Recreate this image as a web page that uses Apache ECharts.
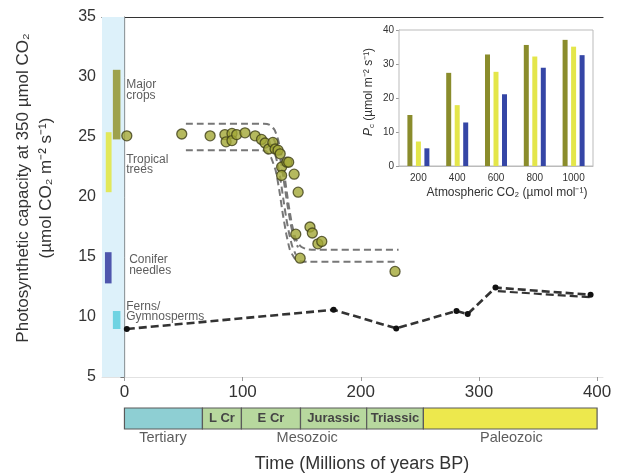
<!DOCTYPE html>
<html><head><meta charset="utf-8">
<script src="https://cdn.jsdelivr.net/npm/echarts@6/dist/echarts.min.js"></script>
<style>html,body{margin:0;padding:0;background:#fff}#c{width:619px;height:475px}</style>
</head><body><div id="c"></div>
<script>
const FONT = '"Liberation Sans", Arial, sans-serif';

// ---- main chart data ----
const xTicks = [0, 100, 200, 300, 400];
// green circles: age (Myr BP) and Pc
const fossilAge = [2, 48.5, 72.5, 85, 86, 91, 91, 95, 102, 110.6, 116, 119, 122, 125.6, 127.5, 130, 131.8, 133, 133, 137.5, 139, 143.6, 147, 145, 157, 159, 163.7, 167, 148.7, 229];
const fossilPc  = [25.1, 25.25, 25.1, 25.2, 24.6, 25.3, 24.7, 25.2, 25.35, 25.1, 24.8, 24.5, 24.0, 24.55, 24.0, 23.9, 23.6, 22.5, 21.8, 22.9, 22.9, 21.9, 20.4, 16.9, 17.5, 17.0, 16.1, 16.3, 14.9, 13.8];

// dashed envelopes
const upperEnvX = [52, 118, 123, 127, 130, 133, 136, 139, 142, 145, 149, 154, 160, 232];
const upperEnvY = [26.1, 26.1, 26.0, 25.6, 24.8, 23.4, 21.4, 19.3, 17.6, 16.5, 15.9, 15.65, 15.6, 15.6];
const mid1X = [126, 130, 133, 136, 138.5, 141, 144, 147];
const mid1Y = [24.9, 24.0, 22.6, 20.6, 19.0, 17.6, 16.4, 15.8];
const mid2X = [124, 128, 131.5, 134.5, 137, 139.5, 142, 145];
const mid2Y = [24.4, 23.4, 21.8, 19.8, 18.2, 16.9, 15.9, 15.2];
const lowerEnvX = [52, 116, 120, 124, 128, 131, 134, 137, 140, 144, 149, 155, 232];
const lowerEnvY = [23.9, 23.9, 23.8, 23.3, 22.2, 20.6, 18.6, 16.9, 15.6, 14.9, 14.65, 14.6, 14.6];

// ferns / gymnosperms line
const fernAge = [2, 177, 230, 281, 290.5, 314, 394.5];
const fernPc  = [9.0, 10.6, 9.05, 10.5, 10.25, 12.45, 11.85];
const fernAge2 = [316, 394.5];
const fernPc2  = [12.15, 11.65];

// modern plant group ranges [x0, x1, yLow, yHigh]
const groupNames = ['Major\ncrops', 'Tropical\ntrees', 'Conifer\nneedles', 'Ferns/\nGymnosperms'];
const groupRanges = [[-9.8, -3.4, 24.8, 30.6], [-15.8, -10.9, 20.4, 25.4], [-16.5, -10.9, 12.8, 15.4], [-9.8, -3.4, 9.0, 10.5]];
const groupColors = ['#9ea24c', '#e2e85a', '#4f56ad', '#6fd3e2'];
const groupLabelX = [1.5, 1.5, 4, 1.5];
const groupLabelY = [28.9, 22.7, 14.3, 10.45];

// geological timeline
const periodNames = ['', 'L Cr', 'E Cr', 'Jurassic', 'Triassic', ''];
const periodStart = [0, 66, 99, 149, 205, 253];
const periodEnd   = [66, 99, 149, 205, 253, 400];
const periodColors = ['#8ecfd3', '#b7d89e', '#b7d89e', '#b7d89e', '#b7d89e', '#ede84d'];
const eraNames = ['Tertiary', 'Mesozoic', 'Paleozoic'];
const eraCenter = [32.6, 154.7, 327.5];

// inset bar chart
const co2Levels = ['200', '400', '600', '800', '1000'];
const cropsPc   = [15.0, 27.4, 32.8, 35.6, 37.1];
const tropicPc  = [7.2, 17.9, 27.7, 32.2, 35.1];
const coniferPc = [5.2, 12.8, 21.1, 28.9, 32.6];

const zip = (a, b) => a.map((v, i) => [v, b[i]]);
const dash = (d, c, w) => ({ color: c, width: w, type: d });

const chart = echarts.init(document.getElementById('c'), null, { renderer: 'canvas' });
const option = {
  animation: false,
  backgroundColor: '#fff',
  textStyle: { fontFamily: FONT },
  grid: [
    { left: 102, top: 17, width: 501, height: 360 },
    { left: 102, top: 408, width: 501, height: 42 },
    { left: 399, top: 30, width: 194, height: 136, show: true, borderColor: '#bbb', borderWidth: 1, backgroundColor: '#fff', z: 5 }
  ],
  xAxis: [
    { gridIndex: 0, type: 'value', min: -19, max: 405,
      axisLine: { show: true, lineStyle: { color: '#e2e2e2' } },
      axisTick: { show: true, customValues: xTicks, length: 4, lineStyle: { color: '#999' } },
      axisLabel: { customValues: xTicks, fontSize: 17, color: '#333', margin: 7, fontFamily: FONT },
      splitLine: { show: false } },
    { gridIndex: 0, type: 'value', position: 'top', min: -19, max: 405,
      axisLine: { show: true, onZero: false, lineStyle: { color: '#333', width: 1.2 } },
      axisTick: { show: false }, axisLabel: { show: false }, splitLine: { show: false } },
    { gridIndex: 1, type: 'value', min: -19, max: 405, show: false },
    { gridIndex: 2, type: 'category', data: co2Levels,
      axisLine: { show: true, lineStyle: { color: '#bbb' } }, axisTick: { show: false },
      axisLabel: { fontSize: 10, color: '#333', margin: 7, fontFamily: FONT } }
  ],
  yAxis: [
    { gridIndex: 0, type: 'value', min: 5, max: 35, interval: 5,
      axisLine: { show: true, lineStyle: { color: '#555', width: 1.2 } },
      axisTick: { show: true, length: 4, lineStyle: { color: '#777' } },
      axisLabel: { fontSize: 16, color: '#333', margin: 6, fontFamily: FONT },
      splitLine: { show: false } },
    { gridIndex: 1, type: 'value', min: -1, max: 1, show: false },
    { gridIndex: 2, type: 'value', min: 0, max: 40, interval: 10,
      axisLine: { show: true, lineStyle: { color: '#bbb' } },
      axisTick: { show: true, length: 3, lineStyle: { color: '#999' } },
      axisLabel: { fontSize: 10, color: '#333', margin: 5, fontFamily: FONT },
      splitLine: { show: false } }
  ],
  graphic: [
    { type: 'text', x: 23, y: 188, rotation: Math.PI / 2, style: { text: 'Photosynthetic capacity at 350 \u00b5mol CO\u2082', font: '17px ' + FONT, fill: '#333', textAlign: 'center', textVerticalAlign: 'middle' } },
    { type: 'text', x: 46, y: 188, rotation: Math.PI / 2, style: { text: '(\u00b5mol CO\u2082 m\u207b\u00b2 s\u207b\u00b9)', font: '17px ' + FONT, fill: '#333', textAlign: 'center', textVerticalAlign: 'middle' } },
    { type: 'text', x: 362, y: 464, style: { text: 'Time (Millions of years BP)', font: '18px ' + FONT, fill: '#333', textAlign: 'center', textVerticalAlign: 'middle' } },
    { type: 'text', x: 369, y: 92, rotation: Math.PI / 2, z: 10, style: {
        text: '{i|P}{s|c} (\u00b5mol m\u207b\u00b2 s\u207b\u00b9)', font: '12px ' + FONT, fill: '#333', textAlign: 'center', textVerticalAlign: 'middle',
        rich: { i: { fontStyle: 'italic', fontSize: 12, fontFamily: FONT, fill: '#333' }, s: { fontSize: 8, fontFamily: FONT, verticalAlign: 'bottom', padding: [6, 0, 0, 0] } } } },
    { type: 'text', x: 507, y: 193, z: 10, style: { text: 'Atmospheric CO\u2082 (\u00b5mol mol\u207b\u00b9)', font: '12px ' + FONT, fill: '#333', textAlign: 'center', textVerticalAlign: 'middle' } }
  ],
  series: [
    { type: 'line', xAxisIndex: 0, yAxisIndex: 0, data: [], z: 0, silent: true,
      markArea: { silent: true, itemStyle: { color: '#ddf1fa' }, data: [[{ xAxis: -19, yAxis: 5 }, { xAxis: 0, yAxis: 35 }]] } },
    { type: 'custom', xAxisIndex: 0, yAxisIndex: 0, z: 2, data: groupRanges,
      renderItem: (p, api) => {
        const a = api.coord([api.value(0), api.value(3)]);
        const b = api.coord([api.value(1), api.value(2)]);
        return { type: 'rect', shape: { x: a[0], y: a[1], width: b[0] - a[0], height: b[1] - a[1] }, style: { fill: groupColors[p.dataIndex] } };
      } },
    { type: 'scatter', xAxisIndex: 0, yAxisIndex: 0, z: 3, symbolSize: 0, silent: true,
      data: groupLabelX.map((x, i) => ({ value: [x, groupLabelY[i]], name: groupNames[i] })),
      label: { show: true, position: 'right', distance: 0, formatter: p => p.name, fontSize: 12, lineHeight: 10.5, color: '#333', fontFamily: FONT } },
    { type: 'line', xAxisIndex: 0, yAxisIndex: 0, z: 3, data: zip(upperEnvX, upperEnvY), showSymbol: false, smooth: 0.15, lineStyle: dash([7, 4], '#777', 2) },
    { type: 'line', xAxisIndex: 0, yAxisIndex: 0, z: 3, data: zip(mid1X, mid1Y), showSymbol: false, smooth: 0.2, lineStyle: dash([7, 4], '#777', 2) },
    { type: 'line', xAxisIndex: 0, yAxisIndex: 0, z: 3, data: zip(mid2X, mid2Y), showSymbol: false, smooth: 0.2, lineStyle: dash([7, 4], '#777', 2) },
    { type: 'line', xAxisIndex: 0, yAxisIndex: 0, z: 3, data: zip(lowerEnvX, lowerEnvY), showSymbol: false, smooth: 0.15, lineStyle: dash([7, 4], '#777', 2) },
    { type: 'line', xAxisIndex: 0, yAxisIndex: 0, z: 4, data: zip(fernAge, fernPc), symbol: 'circle', symbolSize: 6, showAllSymbol: true,
      itemStyle: { color: '#111' }, lineStyle: dash([8, 4], '#333', 2.6) },
    { type: 'line', xAxisIndex: 0, yAxisIndex: 0, z: 4, data: zip(fernAge2, fernPc2), showSymbol: false, lineStyle: dash([8, 4], '#333', 2.2) },
    { type: 'scatter', xAxisIndex: 0, yAxisIndex: 0, z: 5, data: zip(fossilAge, fossilPc), symbolSize: 10,
      itemStyle: { color: '#a2a736', borderColor: '#3e3e18', borderWidth: 1.3 } },
    { type: 'custom', xAxisIndex: 2, yAxisIndex: 1, z: 2, data: periodStart.map((s, i) => [s, periodEnd[i]]),
      renderItem: (p, api) => {
        const a = api.coord([api.value(0), 1]);
        const b = api.coord([api.value(1), 0]);
        return { type: 'rect', shape: { x: a[0], y: a[1], width: b[0] - a[0], height: b[1] - a[1] },
          style: { fill: periodColors[p.dataIndex], stroke: '#5a5a5a', lineWidth: 1.2 },
          textContent: { style: { text: periodNames[p.dataIndex], fill: '#444', fontSize: 13, fontWeight: 'bold', fontFamily: FONT } },
          textConfig: { position: 'inside' } };
      } },
    { type: 'scatter', xAxisIndex: 2, yAxisIndex: 1, symbolSize: 0, silent: true,
      data: eraCenter.map((x, i) => ({ value: [x, -0.45], name: eraNames[i] })),
      label: { show: true, position: 'inside', formatter: p => p.name, fontSize: 14.5, color: '#333', fontFamily: FONT } },
    { type: 'bar', xAxisIndex: 3, yAxisIndex: 2, z: 6, data: cropsPc, barWidth: 5, barGap: '70%', itemStyle: { color: '#8a8c2c' } },
    { type: 'bar', xAxisIndex: 3, yAxisIndex: 2, z: 6, data: tropicPc, barWidth: 5, barGap: '70%', itemStyle: { color: '#e4e64a' } },
    { type: 'bar', xAxisIndex: 3, yAxisIndex: 2, z: 6, data: coniferPc, barWidth: 5, barGap: '70%', itemStyle: { color: '#3546a6' } }
  ]
};
chart.setOption(option);
</script></body></html>
